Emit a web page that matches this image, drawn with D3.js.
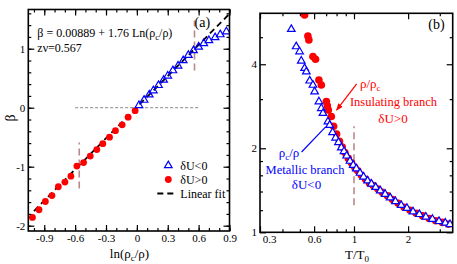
<!DOCTYPE html>
<html>
<head>
<meta charset="UTF-8">
<title>Beta scaling and collapse</title>
<script src="https://d3js.org/d3.v7.min.js"></script>
<style>
  body { margin: 0; background: #fff; }
  svg { font-family: "Liberation Serif", "Times New Roman", serif; }
</style>
</head>
<body>
<svg id="chart" width="457" height="264"></svg>
<script>
// ---- panel (a): beta vs ln(rho_c/rho)
const lnRhoRed = [-1.015, -0.951, -0.889, -0.825, -0.763, -0.699, -0.641, -0.583, -0.518, -0.453, -0.389, -0.331, -0.266, -0.208, -0.143, -0.085, -0.017];
const betaRed  = [-1.86, -1.73, -1.59, -1.49, -1.34, -1.26, -1.16, -0.99, -0.93, -0.82, -0.71, -0.61, -0.50, -0.39, -0.29, -0.16, -0.05];
const lnRhoBlue = [0.02, 0.07, 0.12, 0.16, 0.21, 0.26, 0.30, 0.35, 0.40, 0.45, 0.50, 0.55, 0.60, 0.65, 0.70, 0.76, 0.81, 0.87];
const betaBlue  = [0.04, 0.13, 0.22, 0.29, 0.38, 0.47, 0.54, 0.63, 0.71, 0.80, 0.89, 0.97, 1.03, 1.09, 1.14, 1.19, 1.24, 1.29];
const fitA = 0.00889, fitB = 1.76;
const fitRange = [-1.0, 0.9];
const zeroLineRange = [-0.6, 0.6];
const markersA = [[-0.56, -1.37, -0.59], [0.56, 0.63, 1.48]];
const xTicksA = [-0.9, -0.6, -0.3, 0, 0.3, 0.6, 0.9];
const yTicksA = [-2, -1, 0, 1];

// ---- panel (b): collapse vs T/T0
const tRed = [0.524, 0.531, 0.554, 0.561, 0.591, 0.611, 0.638, 0.658, 0.702, 0.711, 0.720, 0.748,
  0.77, 0.80, 0.83, 0.86, 0.89, 0.93, 0.97, 1.01, 1.05, 1.10, 1.16, 1.22, 1.28, 1.36, 1.44, 1.54, 1.64, 1.76, 1.90, 2.05, 2.22, 2.41, 2.62, 2.85, 3.10, 3.35];
const yRed = [6.12, 6.01, 5.05, 4.89, 4.26, 4.17, 3.51, 3.37, 2.94, 2.84, 2.74, 2.60,
  2.40, 2.25, 2.12, 2.02, 1.93, 1.84, 1.77, 1.71, 1.66, 1.60, 1.55, 1.50, 1.47, 1.43, 1.39, 1.35, 1.31, 1.27, 1.23, 1.20, 1.17, 1.145, 1.12, 1.10, 1.085, 1.07];
const tBlue = [0.448, 0.477, 0.498, 0.509, 0.531, 0.543, 0.567, 0.591, 0.604, 0.638, 0.658, 0.672, 0.716, 0.732,
  0.76, 0.79, 0.82, 0.85, 0.88, 0.91, 0.95, 0.99, 1.03, 1.08, 1.13, 1.19, 1.25, 1.32, 1.40, 1.49, 1.59, 1.70, 1.83, 1.97, 2.13, 2.31, 2.51, 2.73, 2.97, 3.22, 3.42];
const yBlue = [5.34, 4.63, 4.44, 4.11, 3.87, 3.76, 3.49, 3.37, 3.19, 2.94, 2.78, 2.67, 2.49, 2.42,
  2.28, 2.18, 2.10, 2.01, 1.95, 1.88, 1.80, 1.74, 1.69, 1.63, 1.58, 1.53, 1.49, 1.45, 1.41, 1.37, 1.33, 1.29, 1.25, 1.22, 1.185, 1.16, 1.135, 1.115, 1.095, 1.08, 1.068];
const markerB = [1, 1.25, 2.4];
const xTicksB = [0.3, 0.6, 1, 2];
const xMinorB = [0.4, 0.5, 0.7, 0.8, 0.9, 3];
const yTicksB = [1, 2, 4];
const yMinorB = [1.2, 1.4, 1.6, 1.8, 3, 5];

const svg = d3.select('#chart');
const RED = '#ff0000', BLUE = '#0000ff', MARK = '#b88a8a';
const tri = 'M0,-4.4L3.8,2.2L-3.8,2.2Z';

// helper: inward ticks on all four sides
function frameTicks(g, x, y, xMaj, xMin, yMaj, yMin, w, h, xFmt, yFmt, xPad, yPad) {
  const bot = g.append('g').attr('transform', `translate(0,${h})`);
  bot.call(d3.axisBottom(x).tickValues(xMaj).tickSize(-6).tickPadding(xPad).tickFormat(xFmt));
  bot.append('g').call(d3.axisBottom(x).tickValues(xMin).tickSize(-3).tickFormat(''));
  const top = g.append('g');
  top.call(d3.axisTop(x).tickValues(xMaj).tickSize(-6).tickFormat(''));
  top.append('g').call(d3.axisTop(x).tickValues(xMin).tickSize(-3).tickFormat(''));
  const left = g.append('g');
  left.call(d3.axisLeft(y).tickValues(yMaj).tickSize(-6).tickPadding(yPad).tickFormat(yFmt));
  left.append('g').call(d3.axisLeft(y).tickValues(yMin).tickSize(-3).tickFormat(''));
  const right = g.append('g').attr('transform', `translate(${w},0)`);
  right.call(d3.axisRight(y).tickValues(yMaj).tickSize(-6).tickFormat(''));
  right.append('g').call(d3.axisRight(y).tickValues(yMin).tickSize(-3).tickFormat(''));
  g.selectAll('.domain').remove();
  g.selectAll('.tick line').attr('stroke', '#000').attr('stroke-width', 1.2);
  g.selectAll('.tick text').attr('font-size', 11).attr('font-family', '"Liberation Serif", serif').attr('fill', '#000');
  g.append('rect').attr('width', w).attr('height', h)
    .attr('fill', 'none').attr('stroke', '#000').attr('stroke-width', 1.6);
}

// ================= panel (a)
const A = { left: 28.3, top: 9.5, w: 201.2, h: 221.5 };
const xA = d3.scaleLinear().domain([-1.055, 0.9]).range([0, A.w]);
const yA = d3.scaleLinear().domain([-2.09, 1.665]).range([A.h, 0]);
const gA = svg.append('g').attr('transform', `translate(${A.left},${A.top})`);
gA.append('clipPath').attr('id', 'clipA').append('rect').attr('width', A.w).attr('height', A.h);
const pA = gA.append('g').attr('clip-path', 'url(#clipA)');

pA.append('line')
  .attr('x1', xA(zeroLineRange[0])).attr('x2', xA(zeroLineRange[1]))
  .attr('y1', yA(0)).attr('y2', yA(0))
  .attr('stroke', '#888').attr('stroke-width', 1).attr('stroke-dasharray', '3,2');

pA.selectAll('line.mark').data(markersA).join('line').attr('class', 'mark')
  .attr('x1', d => xA(d[0])).attr('x2', d => xA(d[0]))
  .attr('y1', d => yA(d[1])).attr('y2', d => yA(d[2]))
  .attr('stroke', MARK).attr('stroke-width', 1.6).attr('stroke-dasharray', '7,4');

pA.append('path')
  .datum(fitRange.map(v => [v, fitA + fitB * v]))
  .attr('d', d3.line().x(d => xA(d[0])).y(d => yA(d[1])))
  .attr('stroke', '#000').attr('stroke-width', 1.8).attr('fill', 'none').attr('stroke-dasharray', '6,4');

pA.selectAll('circle').data(lnRhoRed.map((v, i) => [v, betaRed[i]])).join('circle')
  .attr('cx', d => xA(d[0])).attr('cy', d => yA(d[1])).attr('r', 3.4).attr('fill', RED);

pA.selectAll('path.tri').data(lnRhoBlue.map((v, i) => [v, betaBlue[i]])).join('path').attr('class', 'tri')
  .attr('d', tri).attr('transform', d => `translate(${xA(d[0])},${yA(d[1])})`)
  .attr('fill', 'none').attr('stroke', BLUE).attr('stroke-width', 1.2);

frameTicks(gA, xA, yA, xTicksA, d3.range(-1.0, 0.95, 0.1), yTicksA, d3.range(-2, 1.65, 0.2),
  A.w, A.h, d => d === 0 ? '0' : d3.format('.1f')(d).replace('−', '-'), d => String(d), 3.5, 3);

// text in panel (a)
const eq = gA.append('text').attr('x', 9).attr('y', 27.5).attr('font-size', 12);
eq.append('tspan').text('β = 0.00889 + 1.76 Ln(ρ');
eq.append('tspan').attr('dy', 3).attr('font-size', 8.5).text('c');
eq.append('tspan').attr('dy', -3).text('/ρ)');
gA.append('text').attr('x', 9).attr('y', 42.5).attr('font-size', 12).text('zν=0.567');
gA.append('text').attr('x', 174).attr('y', 17).attr('font-size', 14).attr('text-anchor', 'middle').text('(a)');

// legend
const lg = gA.append('g').attr('transform', 'translate(140,156)');
lg.append('path').attr('d', tri).attr('transform', 'translate(0,0)')
  .attr('fill', 'none').attr('stroke', BLUE).attr('stroke-width', 1.2);
lg.append('circle').attr('cx', 0).attr('cy', 14).attr('r', 3.4).attr('fill', RED);
lg.append('line').attr('x1', -11).attr('x2', 7).attr('y1', 28).attr('y2', 28)
  .attr('stroke', '#000').attr('stroke-width', 1.8).attr('stroke-dasharray', '6,4');
['δU<0', 'δU>0', 'Linear fit'].forEach((t, i) => {
  lg.append('text').attr('x', 12).attr('y', i * 14 + 4.5).attr('font-size', 12).text(t);
});

// axis titles (a)
svg.append('text').attr('transform', 'translate(15,118) rotate(-90)')
  .attr('text-anchor', 'middle').attr('font-size', 14).text('β');
const xlA = svg.append('text').attr('x', 129.5).attr('y', 257.5).attr('text-anchor', 'middle').attr('font-size', 13);
xlA.append('tspan').text('ln(ρ');
xlA.append('tspan').attr('dy', 3).attr('font-size', 9).text('c');
xlA.append('tspan').attr('dy', -3).text('/ρ)');

// ================= panel (b)
const B = { left: 260, top: 13.3, w: 192.7, h: 219 };
const xB = d3.scaleLog().domain([0.3, 3.54]).range([0, B.w]);
const yB = d3.scaleLog().domain([1, 6.09]).range([B.h, 0]);
const gB = svg.append('g').attr('transform', `translate(${B.left},${B.top})`);
gB.append('clipPath').attr('id', 'clipB').append('rect').attr('width', B.w).attr('height', B.h);
const pB = gB.append('g').attr('clip-path', 'url(#clipB)');

pB.append('line')
  .attr('x1', xB(markerB[0])).attr('x2', xB(markerB[0]))
  .attr('y1', yB(markerB[1])).attr('y2', yB(markerB[2]))
  .attr('stroke', MARK).attr('stroke-width', 1.6).attr('stroke-dasharray', '7,4');

pB.selectAll('circle').data(tRed.map((v, i) => [v, yRed[i]])).join('circle')
  .attr('cx', d => xB(d[0])).attr('cy', d => yB(d[1])).attr('r', 3.8).attr('fill', RED);

pB.selectAll('path.tri').data(tBlue.map((v, i) => [v, yBlue[i]])).join('path').attr('class', 'tri')
  .attr('d', tri).attr('transform', d => `translate(${xB(d[0])},${yB(d[1])})`)
  .attr('fill', '#fff').attr('stroke', BLUE).attr('stroke-width', 1.2);

frameTicks(gB, xB, yB, xTicksB, xMinorB, yTicksB, yMinorB, B.w, B.h, d => String(d), d => String(d), 3, 3);
gB.selectAll('.tick text').filter(d => d === 0.3).attr('dx', 9);

// annotations (b)
const defs = svg.append('defs');
defs.append('marker').attr('id', 'arrRed').attr('viewBox', '0 0 10 10').attr('refX', 9).attr('refY', 5)
  .attr('markerWidth', 6).attr('markerHeight', 6).attr('orient', 'auto')
  .append('path').attr('d', 'M0,1L10,5L0,9Z').attr('fill', RED);

const arrowRed = [[1.035, 3.40], [0.80, 2.74]];
const arrowBlue = [[0.511, 1.94], [0.695, 2.385]];
gB.append('line')
  .attr('x1', xB(arrowRed[0][0])).attr('y1', yB(arrowRed[0][1]))
  .attr('x2', xB(arrowRed[1][0])).attr('y2', yB(arrowRed[1][1]))
  .attr('stroke', RED).attr('stroke-width', 1.2).attr('marker-end', 'url(#arrRed)');
gB.append('line')
  .attr('x1', xB(arrowBlue[0][0])).attr('y1', yB(arrowBlue[0][1]))
  .attr('x2', xB(arrowBlue[1][0])).attr('y2', yB(arrowBlue[1][1]))
  .attr('stroke', BLUE).attr('stroke-width', 1.2);

const rr = svg.append('text').attr('x', 360).attr('y', 88).attr('font-size', 13).attr('fill', RED);
rr.append('tspan').text('ρ/ρ');
rr.append('tspan').attr('dy', 2.5).attr('font-size', 9).text('c');
svg.append('text').attr('x', 393.5).attr('y', 106).attr('text-anchor', 'middle')
  .attr('font-size', 12.5).attr('fill', RED).text('Insulating branch');
svg.append('text').attr('x', 393).attr('y', 123).attr('text-anchor', 'middle')
  .attr('font-size', 13).attr('fill', RED).text('δU>0');

const rb = svg.append('text').attr('x', 289).attr('y', 157).attr('text-anchor', 'middle').attr('font-size', 13).attr('fill', BLUE);
rb.append('tspan').text('ρ');
rb.append('tspan').attr('dy', 3).attr('font-size', 9).text('c');
rb.append('tspan').attr('dy', -3).text('/ρ');
svg.append('text').attr('x', 305).attr('y', 173.5).attr('text-anchor', 'middle')
  .attr('font-size', 12.5).attr('fill', BLUE).text('Metallic branch');
svg.append('text').attr('x', 306.5).attr('y', 189).attr('text-anchor', 'middle')
  .attr('font-size', 13).attr('fill', BLUE).text('δU<0');

gB.append('text').attr('x', 176.5).attr('y', 16).attr('font-size', 14).attr('text-anchor', 'middle').text('(b)');

const xlB = svg.append('text').attr('x', 357).attr('y', 258.5).attr('text-anchor', 'middle').attr('font-size', 13);
xlB.append('tspan').text('T/T');
xlB.append('tspan').attr('dy', 3).attr('font-size', 9).text('0');
</script>
</body>
</html>
